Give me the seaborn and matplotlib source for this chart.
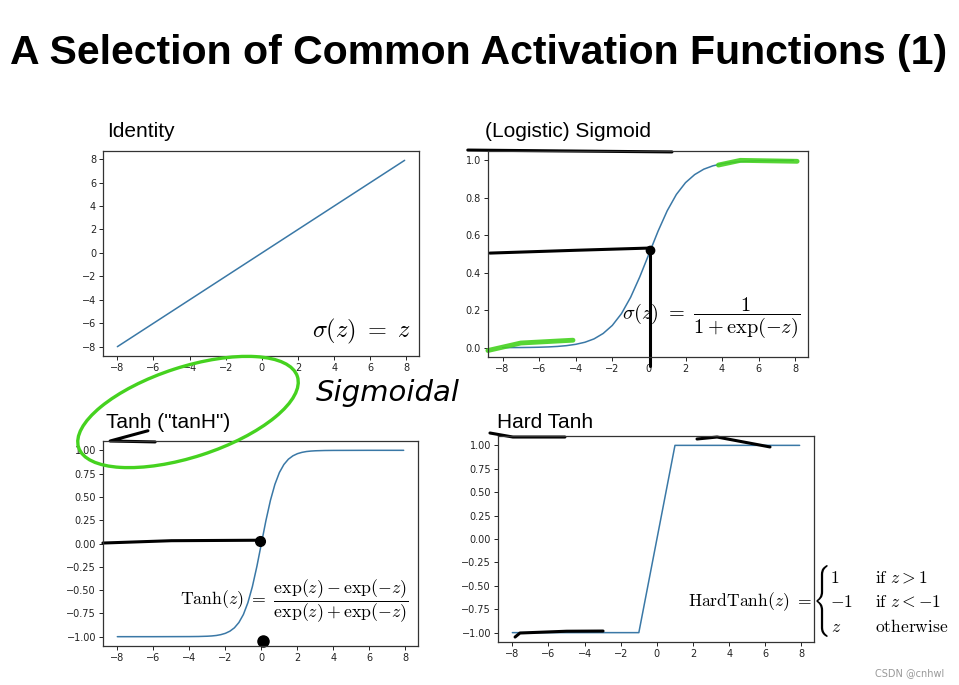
import numpy as np
import pandas as pd
import matplotlib
matplotlib.use("Agg")
import matplotlib.pyplot as plt
import seaborn as sns
from matplotlib.patches import Ellipse, PathPatch
from matplotlib.textpath import TextPath
from matplotlib.transforms import Affine2D

# ── DATA ────────────────────────────────────────────────────
z_identity = [-8.0, 7.9]
y_identity = [-8.0, 7.9]

z_sigmoid = [-8.0, -7.5, -7.0, -6.5, -6.0, -5.5, -5.0, -4.5, -4.0, -3.5, -3.0,
             -2.5, -2.0, -1.5, -1.0, -0.5, 0.0, 0.5, 1.0, 1.5, 2.0, 2.5, 3.0,
             3.5, 4.0, 4.5, 5.0, 5.5, 6.0, 6.5, 7.0, 7.5, 7.9]
y_sigmoid = [0.0003, 0.0006, 0.0009, 0.0015, 0.0025, 0.0041, 0.0067, 0.011,
             0.018, 0.029, 0.047, 0.076, 0.119, 0.182, 0.269, 0.378, 0.500,
             0.622, 0.731, 0.818, 0.881, 0.924, 0.953, 0.971, 0.982, 0.989,
             0.993, 0.996, 0.998, 0.998, 0.999, 0.999, 1.000]

z_tanh = [-8.0, -6.0, -4.0, -3.5, -3.0, -2.75, -2.5, -2.25, -2.0, -1.75, -1.5,
          -1.25, -1.0, -0.75, -0.5, -0.25, 0.0, 0.25, 0.5, 0.75, 1.0, 1.25,
          1.5, 1.75, 2.0, 2.25, 2.5, 2.75, 3.0, 3.5, 4.0, 6.0, 7.9]
y_tanh = [-1.000, -1.000, -0.999, -0.998, -0.995, -0.992, -0.987, -0.978,
          -0.964, -0.941, -0.905, -0.848, -0.762, -0.635, -0.462, -0.245, 0.0,
          0.245, 0.462, 0.635, 0.762, 0.848, 0.905, 0.941, 0.964, 0.978,
          0.987, 0.992, 0.995, 0.998, 0.999, 1.000, 1.000]

z_hardtanh = [-8.0, -1.0, 1.0, 7.9]
y_hardtanh = [-1.0, -1.0, 1.0, 1.0]

x_ticks = [-8, -6, -4, -2, 0, 2, 4, 6, 8]
id_ticks = [-8, -6, -4, -2, 0, 2, 4, 6, 8]
sig_ticks = [0.0, 0.2, 0.4, 0.6, 0.8, 1.0]
tanh_ticks = [-1.0, -0.75, -0.5, -0.25, 0.0, 0.25, 0.5, 0.75, 1.0]

titles = ["Identity", "(Logistic) Sigmoid", 'Tanh ("tanH")', "Hard Tanh"]

# ── STYLE ───────────────────────────────────────────────────
sns.set_style("ticks")
plt.rcParams["font.family"] = ["DejaVu Sans"]
plt.rcParams["mathtext.fontset"] = "cm"
plt.rcParams["text.color"] = "black"
plt.rcParams["xtick.labelsize"] = 7
plt.rcParams["ytick.labelsize"] = 7
plt.rcParams["axes.edgecolor"] = "#333333"
plt.rcParams["axes.linewidth"] = 0.9

line_color = "#3a78a6"
W, H = 959, 685

fig = plt.figure(figsize=(W / 100, H / 100), dpi=100)


def px_axes(left, top, right, bottom):
    return fig.add_axes([left / W, 1 - bottom / H, (right - left) / W, (bottom - top) / H])


ax_id = px_axes(103, 151, 419, 356)
ax_sig = px_axes(488, 151, 808, 357)
ax_tanh = px_axes(103, 441, 418, 646)
ax_hard = px_axes(498, 436, 814, 642)

panels = [
    (ax_id, z_identity, y_identity, id_ticks, "{:.0f}"),
    (ax_sig, z_sigmoid, y_sigmoid, sig_ticks, "{:.1f}"),
    (ax_tanh, z_tanh, y_tanh, tanh_ticks, "{:.2f}"),
    (ax_hard, z_hardtanh, y_hardtanh, tanh_ticks, "{:.2f}"),
]

for ax, zs, ys, yt, fmt in panels:
    df = pd.DataFrame({"z": zs, "y": ys})
    sns.lineplot(data=df, x="z", y="y", ax=ax, color=line_color, linewidth=1.1,
                 estimator=None, sort=False)
    ax.set_xticks(x_ticks)
    ax.set_yticks(yt)
    ax.set_yticklabels([fmt.format(v).replace("-", "\u2212") for v in yt])
    ax.set_xlabel("")
    ax.set_ylabel("")
    ax.tick_params(length=3, width=0.7, pad=2, colors="#222222")
    # freeze the limits so the annotations below do not move them
    ax.set_xlim(ax.get_xlim())
    ax.set_ylim(ax.get_ylim())

# subplot titles
title_kw = dict(fontsize=15, family="Liberation Sans", va="baseline", ha="left")
ax_id.text(0.013, 1.068, titles[0], transform=ax_id.transAxes, **title_kw)
ax_sig.text(-0.01, 1.068, titles[1], transform=ax_sig.transAxes, **title_kw)
ax_tanh.text(0.01, 1.063, titles[2], transform=ax_tanh.transAxes, **title_kw)
ax_hard.text(-0.003, 1.04, titles[3], transform=ax_hard.transAxes, **title_kw)

# formulas
ax_id.text(0.975, 0.05, r"$\sigma(z)\ =\ z$", transform=ax_id.transAxes,
           ha="right", va="bottom", fontsize=17.5)
ax_sig.text(0.975, 0.19, r"$\sigma(z)\ =\ \dfrac{1}{1+\exp(-z)}$", transform=ax_sig.transAxes,
            ha="right", va="center", fontsize=14.6)
ax_tanh.text(0.968, 0.22, r"$\mathrm{Tanh}(z)\ =\ \dfrac{\exp(z)-\exp(-z)}{\exp(z)+\exp(-z)}$",
             transform=ax_tanh.transAxes, ha="right", va="center", fontsize=12.8)

hk = dict(transform=ax_hard.transAxes, va="center", fontsize=12.6, clip_on=False)
ax_hard.text(0.994, 0.194, r"$\mathrm{HardTanh}(z)\ =$", ha="right", **hk)
ax_hard.text(1.051, 0.311, r"$1$", ha="left", **hk)
ax_hard.text(1.051, 0.194, r"$-1$", ha="left", **hk)
ax_hard.text(1.055, 0.073, r"$z$", ha="left", **hk)
ax_hard.text(1.193, 0.311, r"$\mathrm{if}\ z > 1$", ha="left", **hk)
ax_hard.text(1.193, 0.194, r"$\mathrm{if}\ z < -1$", ha="left", **hk)
ax_hard.text(1.193, 0.073, r"$\mathrm{otherwise}$", ha="left", **hk)

# tall thin brace for the cases
brace = TextPath((0, 0), r"$\{$", size=10)
ext = brace.get_extents()
brace_tr = (Affine2D().translate(-ext.x0, -ext.y0)
            .scale(0.11 / ext.width, 0.72 / ext.height)
            .translate(8.165, (H - 637) / 100))
fig.patches.append(PathPatch(brace, transform=brace_tr + fig.dpi_scale_trans,
                             facecolor="black", edgecolor="none"))

# slide title + watermark
fig.text(0.010, 0.922, "A Selection of Common Activation Functions (1)", fontsize=29.5,
         fontweight="bold", family="Liberation Sans", va="center", ha="left")
fig.text(0.985, 0.017, "CSDN @cnhwl", fontsize=7, color="#999999", ha="right", va="center")

# ── HAND-DRAWN ANNOTATIONS ──────────────────────────────────
ink = dict(color="black", linewidth=2.2, solid_capstyle="round", clip_on=False)
green = dict(color="#45d21f", linewidth=3.5, solid_capstyle="round", clip_on=False, alpha=0.9)

ax_sig.plot([-9.9, 1.26], [1.055, 1.045], **ink)
ax_sig.plot([-8.69, -4.0, 0.06], [0.505, 0.52, 0.532], **ink)
ax_sig.plot([0.06, 0.06], [0.532, -0.10], **ink)
ax_sig.plot([0.06], [0.52], "o", color="black", markersize=6, clip_on=False)
ax_sig.plot([3.8, 5.0, 8.1], [0.975, 1.0, 0.995], **green)
ax_sig.plot([-8.8, -7.0, -4.15], [-0.015, 0.025, 0.04], **green)

ax_tanh.plot([-8.8, -5.0, -0.25], [0.005, 0.03, 0.035], **ink)
ax_tanh.plot([-0.08], [0.03], "o", color="black", markersize=7, clip_on=False)
ax_tanh.plot([0.09], [-1.046], "o", color="black", markersize=8, clip_on=False)
ax_tanh.plot([-6.3, -8.4, -5.9], [1.21, 1.10, 1.09], **ink)

ax_hard.plot([-7.85, -7.58, -5.0, -2.98], [-1.047, -1.004, -0.985, -0.983], **ink)
ax_hard.plot([2.22, 3.33, 6.26], [1.068, 1.089, 0.983], **ink)
ax_hard.plot([-9.24, -7.97, -5.09], [1.132, 1.089, 1.089], **ink)

ell = Ellipse((1.88, (H - 412) / 100), 2.3, 0.9, angle=18, fill=False,
              edgecolor="#45d21f", linewidth=2.4, transform=fig.dpi_scale_trans)
fig.patches.append(ell)
fig.text(388 / W, 1 - 393 / H, "Sigmoidal", fontsize=21, fontstyle="italic",
         family="DejaVu Sans", ha="center", va="center")

fig.savefig("out.png", dpi=100)
